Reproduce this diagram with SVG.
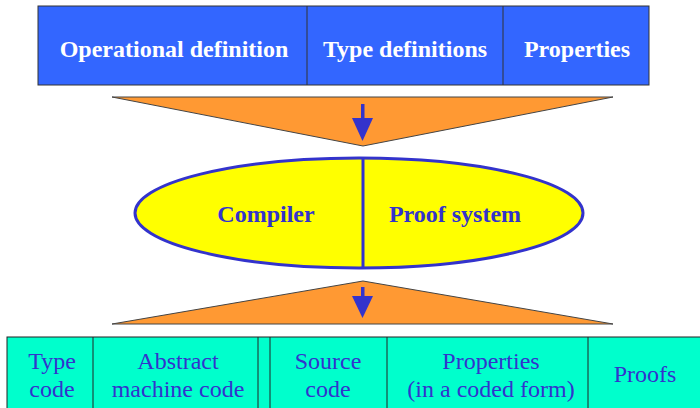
<svg xmlns="http://www.w3.org/2000/svg" width="700" height="408" viewBox="0 0 700 408">
<style>
.top{fill:#3366FF;stroke:#333;stroke-width:1}
.tt{font-family:"Liberation Serif",serif;font-weight:bold;font-size:24px;fill:#fff;text-anchor:middle}
.tri{fill:#FF9933;stroke:#444;stroke-width:1}
.arr{fill:#3333CC}
.el{fill:#FFFF00;stroke:#3333CC;stroke-width:3}
.et{font-family:"Liberation Serif",serif;font-weight:bold;font-size:24px;fill:#3333CC;text-anchor:middle}
.bot{fill:#00FFCC;stroke:#222;stroke-width:1}
.bt{font-family:"Liberation Serif",serif;font-size:24px;fill:#3333CC;text-anchor:middle}
</style>
<rect width="700" height="408" fill="#fff"/>
<g id="top-bar">
<rect class="top" x="38" y="6" width="611" height="79"/>
<line x1="307" y1="6" x2="307" y2="85" stroke="#333"/>
<line x1="503" y1="6" x2="503" y2="85" stroke="#333"/>
<text class="tt" x="174" y="57">Operational definition</text>
<text class="tt" x="405" y="57">Type definitions</text>
<text class="tt" x="577" y="57">Properties</text>
</g>
<g id="connectors">
<polygon class="tri" points="112,97 613,97 363,146"/>
<rect class="arr" x="361" y="104" width="3.5" height="15"/>
<polygon class="arr" points="352,118 373,118 362.5,141"/>
<polygon class="tri" points="112,324 613,324 363,281"/>
<rect class="arr" x="361" y="287" width="3.5" height="10"/>
<polygon class="arr" points="352,296 373,296 362.5,318"/>
</g>
<g id="processor">
<ellipse class="el" cx="359" cy="213" rx="224" ry="55"/>
<line x1="363" y1="158" x2="363" y2="268" stroke="#3333CC" stroke-width="3"/>
<text class="et" x="266" y="222">Compiler</text>
<text class="et" x="455" y="222">Proof system</text>
</g>
<g id="bottom-bar">
<rect class="bot" x="7" y="337" width="700" height="80"/>
<line x1="93" y1="337" x2="93" y2="408" stroke="#222"/>
<line x1="258" y1="337" x2="258" y2="408" stroke="#222"/>
<line x1="270" y1="337" x2="270" y2="408" stroke="#222"/>
<line x1="387" y1="337" x2="387" y2="408" stroke="#222"/>
<line x1="588" y1="337" x2="588" y2="408" stroke="#222"/>
<text class="bt" x="52" y="369">Type</text>
<text class="bt" x="52" y="397">code</text>
<text class="bt" x="178" y="369">Abstract</text>
<text class="bt" x="178" y="397">machine code</text>
<text class="bt" x="328" y="369">Source</text>
<text class="bt" x="328" y="397">code</text>
<text class="bt" x="491" y="369">Properties</text>
<text class="bt" x="491" y="397">(in a coded form)</text>
<text class="bt" x="645" y="382">Proofs</text>
</g>
</svg>
